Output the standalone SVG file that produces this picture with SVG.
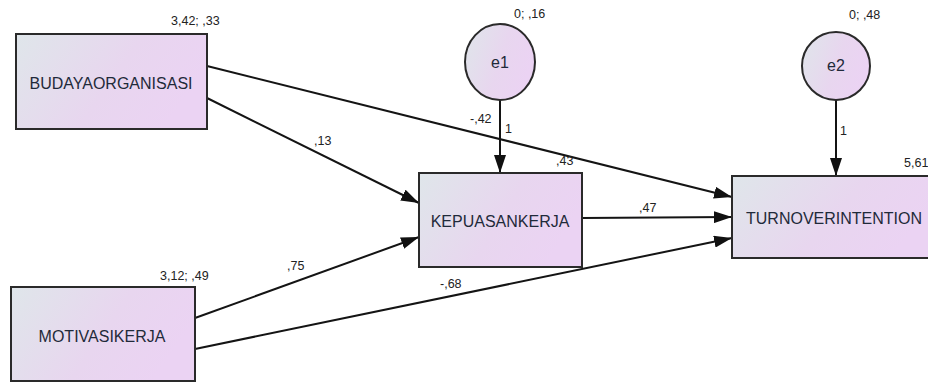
<svg xmlns="http://www.w3.org/2000/svg" width="928" height="382" viewBox="0 0 928 382">
  <defs>
    <linearGradient id="fillGrad" x1="0" y1="0" x2="1" y2="0.35">
      <stop offset="0" stop-color="#dfe6ea"/>
      <stop offset="0.6" stop-color="#e8d6ef"/>
      <stop offset="1" stop-color="#ebd3f3"/>
    </linearGradient>
    <marker id="arrow" markerUnits="userSpaceOnUse" markerWidth="18" markerHeight="12" refX="18" refY="6" orient="auto">
      <path d="M0,0 L18,6 L0,12 z" fill="#111"/>
    </marker>
    <style>
      .box { fill: url(#fillGrad); stroke: #2a2a2a; stroke-width: 2; }
      .err { fill: url(#fillGrad); stroke: #2a2a2a; stroke-width: 2; }
      .name { font-family: "Liberation Sans", Arial, sans-serif; font-size: 16px; fill: #1f2a3a; text-anchor: middle; }
      .val { font-family: "Liberation Sans", Arial, sans-serif; font-size: 12.5px; fill: #222; }
      .edge { stroke: #141414; stroke-width: 2; fill: none; marker-end: url(#arrow); }
    </style>
  </defs>
  <rect width="928" height="382" fill="#ffffff"/>

  <!-- path connectors -->
  <g id="connectors">
    <line class="edge" x1="207" y1="66" x2="732" y2="197"/>
    <line class="edge" x1="207" y1="98" x2="419" y2="203"/>
    <line class="edge" x1="195" y1="318" x2="419" y2="237"/>
    <line class="edge" x1="195" y1="349" x2="732" y2="238"/>
    <line class="edge" x1="582" y1="218" x2="732" y2="217"/>
    <line class="edge" x1="500" y1="100" x2="500" y2="173"/>
    <line class="edge" x1="836" y1="100" x2="836" y2="176"/>
    <text class="val" x="470" y="123">-,42</text>
    <text class="val" x="314" y="145">,13</text>
    <text class="val" x="287" y="270">,75</text>
    <text class="val" x="440" y="288">-,68</text>
    <text class="val" x="639" y="212">,47</text>
    <text class="val" x="505" y="133">1</text>
    <text class="val" x="840" y="135">1</text>
  </g>

  <g id="budayaorganisasi">
    <rect class="box" x="16" y="34" width="191" height="95"/>
    <text class="name" x="111" y="89">BUDAYAORGANISASI</text>
    <text class="val" x="171" y="25">3,42; ,33</text>
  </g>

  <g id="motivasikerja">
    <rect class="box" x="11" y="287" width="184" height="94"/>
    <text class="name" x="102" y="342">MOTIVASIKERJA</text>
    <text class="val" x="160" y="280">3,12; ,49</text>
  </g>

  <g id="kepuasankerja">
    <rect class="box" x="419" y="173" width="163" height="94"/>
    <text class="name" x="500" y="227">KEPUASANKERJA</text>
    <text class="val" x="556" y="165">,43</text>
  </g>

  <g id="turnoverintention">
    <rect class="box" x="732" y="176" width="204" height="82"/>
    <text class="name" x="834" y="224">TURNOVERINTENTION</text>
    <text class="val" x="904" y="167">5,61</text>
  </g>

  <g id="e1">
    <ellipse class="err" cx="500" cy="62" rx="35" ry="38"/>
    <text class="name" x="500" y="68">e1</text>
    <text class="val" x="514" y="18">0; ,16</text>
  </g>

  <g id="e2">
    <ellipse class="err" cx="836" cy="66" rx="34" ry="34"/>
    <text class="name" x="836" y="71">e2</text>
    <text class="val" x="849" y="19">0; ,48</text>
  </g>
</svg>
